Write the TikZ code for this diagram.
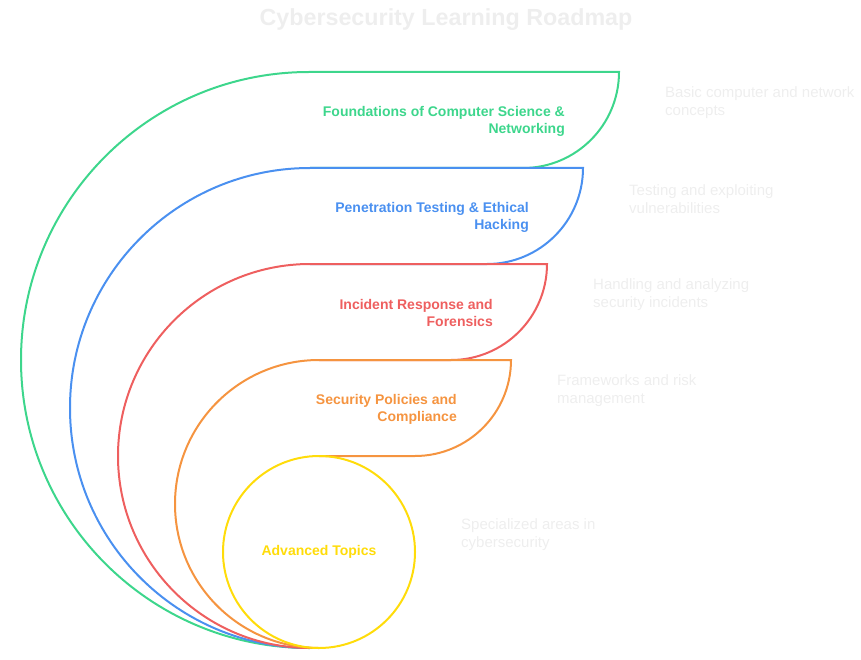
\documentclass[tikz,border=0pt]{standalone}
\usepackage{fontspec}
\setmainfont{Liberation Sans}
\definecolor{cgreen}{HTML}{3DD68C}
\definecolor{cblue}{HTML}{4A90F0}
\definecolor{cred}{HTML}{EE5F5F}
\definecolor{corange}{HTML}{F59440}
\definecolor{cyellow}{HTML}{FFDC0A}
\definecolor{cpale}{HTML}{EEEEEE}
\begin{document}
\begin{tikzpicture}[x=1pt,y=1pt,yscale=-1,
  shp/.style={line width=2pt},
  lbl/.style={font=\bfseries\fontsize{14}{17}\selectfont, align=right, inner sep=0pt, anchor=east},
  desc/.style={font=\fontsize{15}{18}\selectfont, text=cpale, align=left, inner sep=0pt, anchor=west}]
\useasboundingbox (0,0) rectangle (861,660);
\node[font=\bfseries\fontsize{23.3}{28}\selectfont, text=cpale, inner sep=0pt] (title) at (446,20) {Cybersecurity Learning Roadmap};
% shapes
\draw[shp, cgreen] (309,648) arc[start angle=90, end angle=270, radius=288] -- (619,72) arc[start angle=0, end angle=90, radius=96] -- (310,168);
\draw[shp, cblue] (310,648) arc[start angle=90, end angle=270, radius=240] -- (583,168) arc[start angle=0, end angle=90, radius=96] -- (310,264);
\draw[shp, cred] (310,648) arc[start angle=90, end angle=270, radius=192] -- (547,264) arc[start angle=0, end angle=90, radius=96] -- (319,360);
\draw[shp, corange] (319,648) arc[start angle=90, end angle=270, radius=144] -- (511,360) arc[start angle=0, end angle=90, radius=96] -- (319,456);
\draw[shp, cyellow] (319,552) circle[radius=96];
% labels
\node[lbl, text=cgreen] (l1) at (565,121) {Foundations of Computer Science \&\\Networking};
\node[lbl, text=cblue] (l2) at (529,217) {Penetration Testing \& Ethical\\Hacking};
\node[lbl, text=cred] (l3) at (493,313) {Incident Response and\\Forensics};
\node[lbl, text=corange] (l4) at (457,409) {Security Policies and\\Compliance};
\node[font=\bfseries\fontsize{14}{17}\selectfont, text=cyellow, inner sep=0pt] (l5) at (319,552) {Advanced Topics};
% descriptions
\node[desc] (d1) at (665,103) {Basic computer and network\\concepts};
\node[desc] (d2) at (629,199) {Testing and exploiting\\vulnerabilities};
\node[desc] (d3) at (593,295) {Handling and analyzing\\security incidents};
\node[desc] (d4) at (557,391) {Frameworks and risk\\management};
\node[desc] (d5) at (461,535) {Specialized areas in\\cybersecurity};
\end{tikzpicture}
\end{document}
